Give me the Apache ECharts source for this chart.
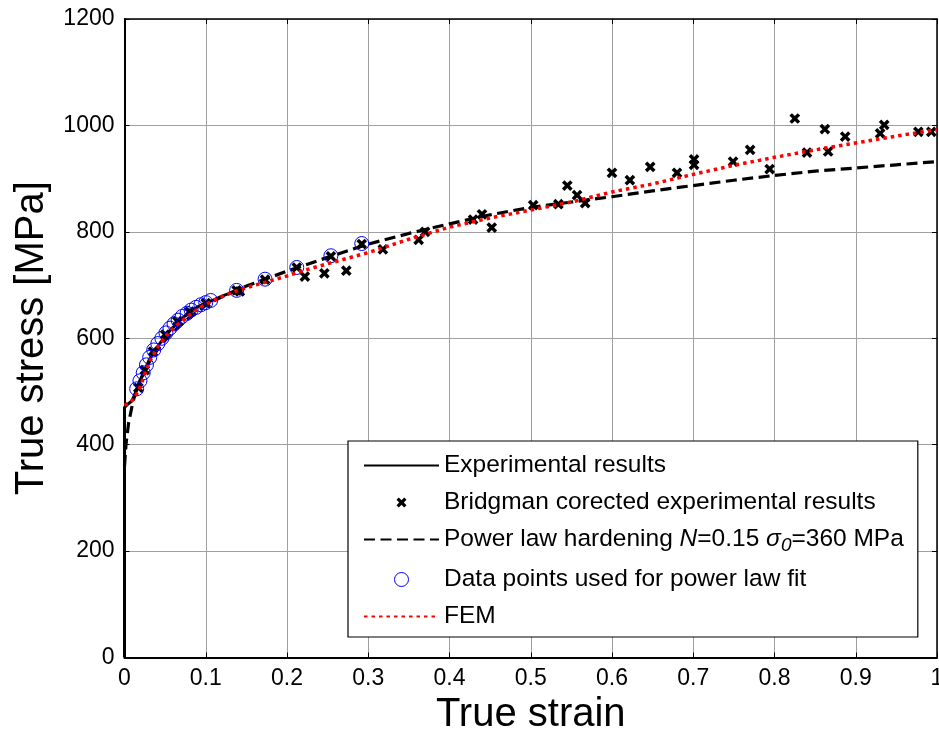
<!DOCTYPE html>
<html>
<head>
<meta charset="utf-8">
<script src="https://cdn.jsdelivr.net/npm/echarts@6/dist/echarts.min.js"></script>
<style>html,body{margin:0;padding:0;background:#fff;}#c{width:939px;height:736px;}</style>
</head>
<body>
<div id="c"></div>
<script>
// ---- data ----
const xTicks = [0, 0.1, 0.2, 0.3, 0.4, 0.5, 0.6, 0.7, 0.8, 0.9, 1];
const yTicks = [0, 200, 400, 600, 800, 1000, 1200];

const experimental = [
  [0,0],[0,470],[0.004,476],[0.009,482],[0.015,503],[0.02,522],[0.025,540],[0.03,558],
  [0.04,583],[0.05,604],[0.06,621],[0.07,636],[0.08,649],[0.09,659],[0.1,666],
  [0.11,672],[0.12,679],[0.13,685],[0.14,690]
];

const bridgman = [
  [0.017,507],[0.025,540],[0.035,575],[0.05,607],[0.065,632],[0.08,650],[0.1,666],
  [0.138,690],[0.142,688],[0.173,710],[0.212,733],[0.222,716],[0.246,722],[0.254,754],
  [0.273,727],[0.292,777],[0.318,767],[0.362,785],[0.37,800],[0.429,823],[0.44,833],
  [0.452,808],[0.503,850],[0.534,852],[0.545,887],[0.557,869],[0.567,854],[0.6,911],
  [0.622,897],[0.647,922],[0.68,911],[0.701,936],[0.701,926],[0.749,932],[0.77,954],
  [0.794,918],[0.825,1013],[0.84,949],[0.862,993],[0.866,951],[0.887,979],[0.93,985],
  [0.935,1001],[0.977,988],[0.993,988]
];

const powerLaw = [
  [0,360],[0.002,403],[0.005,440],[0.01,478],[0.015,505],[0.02,524],[0.03,554],[0.04,577],
  [0.05,596],[0.06,612],[0.075,633],[0.09,650],[0.1,662],[0.125,682],[0.15,698],[0.175,712],
  [0.2,726],[0.25,752],[0.3,777],[0.35,797],[0.4,815],[0.45,832],[0.5,846],[0.55,856],
  [0.6,866],[0.65,877],[0.7,887],[0.75,897],[0.8,906],[0.85,914],[0.9,920],[0.95,926],[1.0,932]
];

const fitPoints = [
  [0.015,505],[0.019,520],[0.023,535],[0.027,550],[0.031,564],[0.036,578],[0.041,590],
  [0.046,600],[0.051,610],[0.056,619],[0.061,627],[0.066,634],[0.071,641],[0.077,647],
  [0.082,653],[0.088,658],[0.094,663],[0.1,667],[0.106,671],[0.138,690],[0.173,711],
  [0.212,733],[0.254,755],[0.292,778]
];

const fem = [
  [0,474],[0.005,478],[0.011,485],[0.016,498],[0.021,515],[0.026,538],[0.031,557],[0.037,573],
  [0.042,586],[0.052,606],[0.062,622],[0.077,640],[0.093,658],[0.109,671],[0.134,687],[0.15,695],
  [0.175,706],[0.2,717],[0.222,728],[0.25,740],[0.3,761],[0.35,786],[0.4,809],[0.45,826],
  [0.5,841],[0.55,856],[0.6,875],[0.65,890],[0.7,908],[0.75,925],[0.8,940],[0.85,954],
  [0.9,967],[0.95,980],[1.0,992]
];

const names = [
  'Experimental results',
  'Bridgman corected experimental results',
  'Power law hardening N=0.15 σ0=360 MPa',
  'Data points used for power law fit',
  'FEM'
];

const FONT = 'Liberation Sans, Arial, sans-serif';
const crossPath = 'path://M0,0L0.01,0L0,0.01Z M14,14L13.99,14L14,13.99Z M4.3,2L7,4.7L9.7,2L12,4.3L9.3,7L12,9.7L9.7,12L7,9.3L4.3,12L2,9.7L4.7,7L2,4.3Z';

const chart = echarts.init(document.getElementById('c'), null, {renderer: 'canvas'});

const baseX = {
  type: 'value', min: xTicks[0], max: xTicks[xTicks.length - 1], interval: 0.1
};
const baseY = {
  type: 'value', min: yTicks[0], max: yTicks[yTicks.length - 1], interval: 200
};

chart.setOption({
  animation: false,
  backgroundColor: '#fff',
  grid: {left: 124.5, right: 2, top: 19, bottom: 78.5, containLabel: false, outerBoundsMode: 'none'},
  xAxis: [
    Object.assign({}, baseX, {
      position: 'bottom',
      name: 'True strain', nameLocation: 'middle', nameGap: 21,
      nameTextStyle: {fontFamily: FONT, fontSize: 40, color: '#000'},
      axisLine: {show: true, onZero: false, lineStyle: {color: '#000', width: 2}},
      axisTick: {show: true, inside: true, length: 5, lineStyle: {color: '#000', width: 1}},
      axisLabel: {show: true, margin: 10, fontFamily: FONT, fontSize: 23, color: '#000',
        formatter: v => String(Math.round(v * 10) / 10)},
      splitLine: {show: true, lineStyle: {color: '#a0a0a0', width: 1}}
    }),
    Object.assign({}, baseX, {
      position: 'top',
      axisLine: {show: true, onZero: false, lineStyle: {color: '#000', width: 1.5}},
      axisTick: {show: true, inside: true, length: 5, lineStyle: {color: '#000', width: 1}},
      axisLabel: {show: false},
      splitLine: {show: false}
    })
  ],
  yAxis: [
    Object.assign({}, baseY, {
      position: 'left',
      name: 'True stress [MPa]', nameLocation: 'middle', nameGap: 53,
      nameTextStyle: {fontFamily: FONT, fontSize: 40, color: '#000'},
      axisLine: {show: true, onZero: false, lineStyle: {color: '#000', width: 2}},
      axisTick: {show: true, inside: true, length: 5, lineStyle: {color: '#000', width: 1}},
      axisLabel: {show: true, margin: 10, fontFamily: FONT, fontSize: 23, color: '#000',
        formatter: v => String(v)},
      splitLine: {show: true, lineStyle: {color: '#a0a0a0', width: 1}}
    }),
    Object.assign({}, baseY, {
      position: 'right',
      axisLine: {show: true, onZero: false, lineStyle: {color: '#000', width: 1.5}},
      axisTick: {show: true, inside: true, length: 5, lineStyle: {color: '#000', width: 1}},
      axisLabel: {show: false},
      splitLine: {show: false}
    })
  ],
  legend: {
    orient: 'vertical',
    left: 348, top: 441,
    padding: [12, 14, 8, 15],
    itemWidth: 75, itemHeight: 14, itemGap: 12, itemTextGap: 10,
    backgroundColor: '#fff',
    borderColor: '#000', borderWidth: 1.2, borderRadius: 0,
    selectedMode: false,
    textStyle: {
      fontFamily: FONT, fontSize: 24.5, color: '#000',
      rich: {
        i: {fontFamily: FONT, fontSize: 24.5, fontStyle: 'italic', color: '#000'},
        sub: {fontFamily: FONT, fontSize: 19, fontStyle: 'italic', color: '#000', padding: [12, 0, 0, 0]}
      }
    },
    formatter: function (name) {
      if (name === names[2]) return 'Power law hardening {i|N}=0.15 {i|σ}{sub|0}=360 MPa';
      return name;
    },
    data: [
      {name: names[0], itemStyle: {opacity: 0}},
      {name: names[1]},
      {name: names[2], itemStyle: {opacity: 0}},
      {name: names[3], itemStyle: {borderWidth: 1}},
      {name: names[4], itemStyle: {opacity: 0}}
    ]
  },
  series: [
    {
      name: names[0], type: 'line', data: experimental, symbol: 'none', z: 1,
      lineStyle: {color: '#000', width: 3}, itemStyle: {color: '#000'}
    },
    {
      name: names[1], type: 'scatter', data: bridgman, symbol: crossPath, symbolSize: 15, z: 2,
      itemStyle: {color: '#000', opacity: 1}
    },
    {
      name: names[2], type: 'line', data: powerLaw, symbol: 'none', z: 3, smooth: false,
      lineStyle: {color: '#000', width: 3.2, type: [11, 5.5]}, itemStyle: {color: '#000'}
    },
    {
      name: names[3], type: 'scatter', data: fitPoints, symbol: 'circle', symbolSize: 14, z: 4,
      itemStyle: {color: 'rgba(0,0,0,0)', borderColor: '#0000ff', borderWidth: 1, opacity: 1}
    },
    {
      name: names[4], type: 'line', data: fem, symbol: 'none', z: 5,
      lineStyle: {color: '#ff0000', width: 3.5, type: [3.5, 4]}, itemStyle: {color: '#ff0000'}
    }
  ]
});
</script>
</body>
</html>
